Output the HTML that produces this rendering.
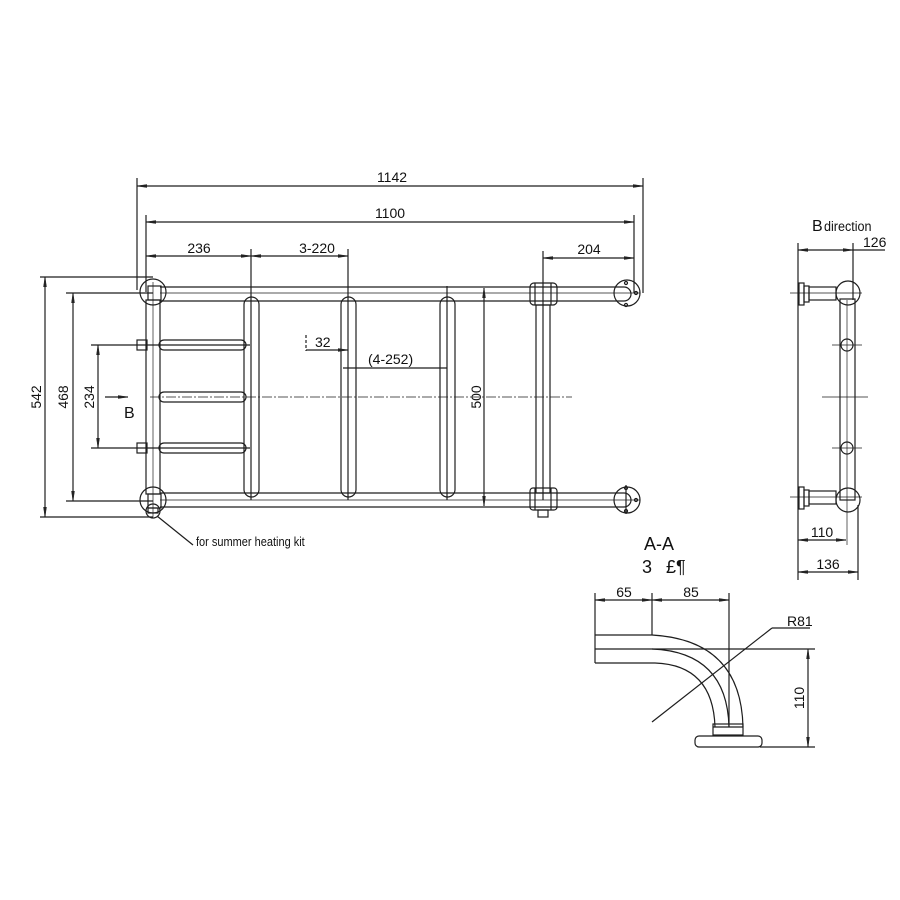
<!DOCTYPE html>
<html><head><meta charset="utf-8"><style>
html,body{margin:0;padding:0;background:#fff}
svg{display:block}
text{font-family:"Liberation Sans",sans-serif;fill:#111}
</style></head><body>
<svg width="900" height="900" viewBox="0 0 900 900" xmlns="http://www.w3.org/2000/svg">
<defs>
<marker id="a" viewBox="0 0 10 6" refX="10" refY="3" markerWidth="10" markerHeight="6" orient="auto-start-reverse" markerUnits="userSpaceOnUse"><path d="M0,1.5 L10,3 L0,4.5" fill="#222" stroke="#222" stroke-width="0.5"/></marker>
</defs>
<g stroke="#1e1e1e" stroke-width="1.2" fill="none">
<line x1="137" y1="178" x2="137" y2="290"/>
<line x1="643" y1="178" x2="643" y2="293"/>
<line x1="137" y1="186" x2="643" y2="186" marker-start="url(#a)" marker-end="url(#a)"/>
<line x1="146" y1="215" x2="146" y2="292"/>
<line x1="634" y1="215" x2="634" y2="293"/>
<line x1="146" y1="222" x2="634" y2="222" marker-start="url(#a)" marker-end="url(#a)"/>
<line x1="146" y1="256" x2="251" y2="256" marker-start="url(#a)" marker-end="url(#a)"/>
<line x1="251" y1="256" x2="348" y2="256" marker-start="url(#a)" marker-end="url(#a)"/>
<line x1="251" y1="249" x2="251" y2="500"/>
<line x1="348" y1="249" x2="348" y2="500"/>
<line x1="447" y1="286" x2="447" y2="500"/>
<line x1="543" y1="251" x2="543" y2="500"/>
<line x1="543" y1="258" x2="634" y2="258" marker-start="url(#a)" marker-end="url(#a)"/>
<line x1="40" y1="277" x2="153" y2="277"/>
<line x1="40" y1="517" x2="153" y2="517"/>
<line x1="45" y1="277" x2="45" y2="517" marker-start="url(#a)" marker-end="url(#a)"/>
<line x1="66" y1="293" x2="153" y2="293"/>
<line x1="66" y1="501" x2="153" y2="501"/>
<line x1="73" y1="293" x2="73" y2="501" marker-start="url(#a)" marker-end="url(#a)"/>
<line x1="91" y1="345" x2="250" y2="345"/>
<line x1="91" y1="448" x2="250" y2="448"/>
<line x1="98" y1="345" x2="98" y2="448" marker-start="url(#a)" marker-end="url(#a)"/>
<line x1="105" y1="397" x2="128" y2="397" marker-end="url(#a)"/>
<line x1="150" y1="397" x2="572" y2="397" stroke-dasharray="10,2,2,2" stroke-width="0.8"/>
<line x1="160" y1="287" x2="612" y2="287"/>
<line x1="160" y1="301" x2="612" y2="301"/>
<line x1="160" y1="293" x2="640" y2="293" stroke-width="0.7"/>
<line x1="160" y1="493" x2="612" y2="493"/>
<line x1="160" y1="507" x2="612" y2="507"/>
<line x1="160" y1="500" x2="640" y2="500" stroke-width="0.7"/>
<rect x="146" y="300" width="14" height="194"/>
<line x1="153" y1="282" x2="153" y2="517" stroke-width="0.7"/>
<circle cx="153" cy="292" r="13"/>
<rect x="148" y="286" width="13" height="14"/>
<circle cx="153" cy="500" r="13"/>
<rect x="148" y="494" width="13" height="14"/>
<circle cx="153" cy="511" r="7"/>
<rect x="148" y="508" width="10" height="5"/>
<line x1="157" y1="516" x2="193" y2="545"/>
<rect x="159" y="340" width="87" height="10" rx="5"/>
<rect x="159" y="392" width="87" height="10" rx="5"/>
<rect x="159" y="443" width="87" height="10" rx="5"/>
<rect x="137" y="340" width="10" height="10"/>
<rect x="137" y="443" width="10" height="10"/>
<rect x="244" y="297" width="15" height="200" rx="7.5"/>
<rect x="341" y="297" width="15" height="200" rx="7.5"/>
<rect x="440" y="297" width="15" height="200" rx="7.5"/>
<rect x="536" y="305" width="14" height="188"/>
<rect x="530" y="283" width="27" height="22" rx="4"/>
<line x1="535" y1="283" x2="535" y2="305"/><line x1="551" y1="283" x2="551" y2="305"/>
<rect x="530" y="488" width="27" height="22" rx="3"/>
<line x1="535" y1="488" x2="535" y2="510"/><line x1="551" y1="488" x2="551" y2="510"/>
<rect x="538" y="510" width="10" height="7"/>
<circle cx="627" cy="293" r="13"/><circle cx="627" cy="500" r="13"/>
<path d="M612,287 h12 a6,6 0 0 1 0,14 h-12"/>
<path d="M612,493 h12 a6,6 0 0 1 0,14 h-12"/>
<circle cx="626" cy="283" r="1.5"/><circle cx="626" cy="305" r="1.5"/><circle cx="636" cy="293" r="1.5"/>
<circle cx="626" cy="488" r="1.5"/><circle cx="626" cy="511" r="1.5"/><circle cx="636" cy="500" r="1.5"/>
<line x1="626" y1="485" x2="626" y2="514"/>
<line x1="484" y1="288" x2="484" y2="506" marker-start="url(#a)" marker-end="url(#a)"/>
<line x1="306" y1="335" x2="306" y2="351" stroke-dasharray="3,2"/>
<line x1="306" y1="350" x2="348" y2="350" marker-end="url(#a)"/>
<line x1="343" y1="368" x2="447" y2="368"/>
<line x1="798" y1="243" x2="798" y2="580"/>
<line x1="853" y1="243" x2="853" y2="300"/>
<line x1="798" y1="250" x2="853" y2="250" marker-start="url(#a)" marker-end="url(#a)"/>
<line x1="853" y1="250" x2="885" y2="250"/>
<rect x="799" y="283" width="5" height="22"/>
<rect x="804" y="286" width="5" height="16"/>
<rect x="809" y="287" width="27" height="13"/>
<circle cx="848" cy="293" r="12"/>
<rect x="840" y="299" width="15" height="201"/>
<line x1="847" y1="300" x2="847" y2="545" stroke-width="0.7"/>
<line x1="790" y1="293" x2="862" y2="293" stroke-width="0.7"/>
<circle cx="847" cy="345" r="6"/><circle cx="847" cy="448" r="6"/>
<line x1="832" y1="345" x2="862" y2="345" stroke-width="0.7"/>
<line x1="832" y1="448" x2="862" y2="448" stroke-width="0.7"/>
<line x1="822" y1="397" x2="868" y2="397" stroke-width="0.7"/>
<rect x="799" y="487" width="5" height="22"/>
<rect x="804" y="490" width="5" height="16"/>
<rect x="809" y="491" width="27" height="13"/>
<circle cx="848" cy="500" r="12"/>
<line x1="790" y1="497" x2="862" y2="497" stroke-width="0.7"/>
<line x1="858" y1="505" x2="858" y2="580"/>
<line x1="798" y1="540" x2="846" y2="540" marker-start="url(#a)" marker-end="url(#a)"/>
<line x1="798" y1="572" x2="858" y2="572" marker-start="url(#a)" marker-end="url(#a)"/>
<line x1="595" y1="593" x2="595" y2="663"/>
<line x1="652" y1="593" x2="652" y2="635"/>
<line x1="729" y1="593" x2="729" y2="727"/>
<line x1="595" y1="600" x2="652" y2="600" marker-start="url(#a)" marker-end="url(#a)"/>
<line x1="652" y1="600" x2="729" y2="600" marker-start="url(#a)" marker-end="url(#a)"/>
<line x1="595" y1="635" x2="652" y2="635"/>
<line x1="595" y1="663" x2="655" y2="663"/>
<line x1="595" y1="649" x2="815" y2="649"/>
<path d="M652,635 Q741,640 743,727"/>
<path d="M655,663 Q713,665 715,727"/>
<path d="M652,649 Q727,652 729,727"/>
<rect x="713" y="724" width="30" height="11"/>
<line x1="713" y1="727" x2="743" y2="727"/>
<rect x="695" y="736" width="67" height="11" rx="4"/>
<line x1="760" y1="747" x2="815" y2="747"/>
<line x1="808" y1="649" x2="808" y2="747" marker-start="url(#a)" marker-end="url(#a)"/>
<line x1="652" y1="722" x2="772" y2="628"/>
<line x1="772" y1="628" x2="810" y2="628"/>
</g>
<g font-size="14">
<text x="392" y="182" text-anchor="middle">1142</text>
<text x="390" y="218" text-anchor="middle">1100</text>
<text x="199" y="253" text-anchor="middle">236</text>
<text x="317" y="253" text-anchor="middle">3-220</text>
<text x="589" y="254" text-anchor="middle">204</text>
<text x="315" y="347">32</text>
<text x="368" y="364">(4-252)</text>
<text x="124" y="418" font-size="16">B</text>
<text x="196" y="546" font-size="12.5" transform="translate(196,546) scale(0.88,1) translate(-196,-546)">for summer heating kit</text>
<text transform="translate(41,397) rotate(-90)" text-anchor="middle">542</text>
<text transform="translate(68,397) rotate(-90)" text-anchor="middle">468</text>
<text transform="translate(94,397) rotate(-90)" text-anchor="middle">234</text>
<text transform="translate(481,397) rotate(-90)" text-anchor="middle">500</text>
<text x="812" y="231" font-size="16">B</text>
<text x="824" y="231" font-size="14" transform="translate(824,231) scale(0.9,1) translate(-824,-231)">direction</text>
<text x="863" y="247">126</text>
<text x="822" y="537" text-anchor="middle">110</text>
<text x="828" y="569" text-anchor="middle">136</text>
<text x="659" y="550" text-anchor="middle" font-size="18">A-A</text>
<text x="642" y="573" font-size="18">3</text>
<text x="666" y="573" font-size="18">£¶</text>
<text x="624" y="597" text-anchor="middle">65</text>
<text x="691" y="597" text-anchor="middle">85</text>
<text x="787" y="626">R81</text>
<text transform="translate(804,698) rotate(-90)" text-anchor="middle">110</text>
</g>
</svg>
</body></html>
